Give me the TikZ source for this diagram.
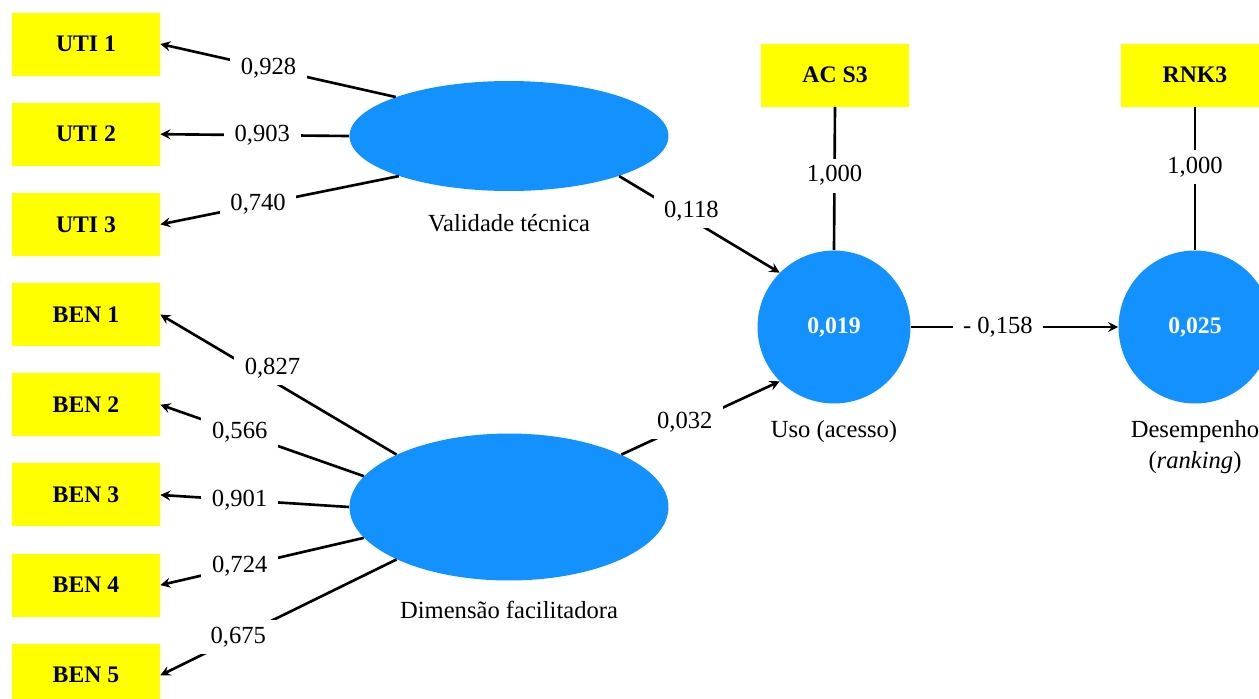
\documentclass[tikz,border=0pt]{standalone}
\usepackage{fontspec}
\setmainfont{Liberation Serif}
\usepackage{tikz}
\usetikzlibrary{shapes,arrows,positioning}
\definecolor{lvblue}{RGB}{18,145,255}
\definecolor{indyellow}{RGB}{255,255,0}

\begin{document}
\begin{tikzpicture}[
    x=0.02cm, y=-0.02cm,
    font=\fontsize{14}{16}\selectfont,
    indbox/.style={rectangle, fill=indyellow, minimum width=2.96cm, minimum height=1.26cm, font=\fontsize{13.5}{16}\selectfont\bfseries},
    latent/.style={ellipse, fill=lvblue, minimum width=6.38cm, inner sep=0pt},
    endo/.style={circle, fill=lvblue, minimum size=3.06cm, inner sep=0pt, text=white, font=\fontsize{13.5}{16}\selectfont\bfseries},
    lbl/.style={fill=white, inner xsep=6pt, inner ysep=4pt},
    arrow/.style={->, line width=1.5pt, >=stealth},
    link/.style={line width=1.5pt}
]
    % page frame (right and bottom edges cut the picture)
    \path[use as bounding box, clip] (0,0) rectangle (1259,698);

    % Latent variables
    \node[latent, minimum height=2.2cm] (vt) at (509,136) {};
    \node[latent, minimum height=2.94cm] (df) at (509,507) {};
    \node[endo] (uso) at (834,327) {0,019};
    \node[endo] (des) at (1195,327) {0,025};
    \node[below=0.34cm of vt] (vtcap) {Validade técnica};
    \node[below=0.28cm of df] (dfcap) {Dimensão facilitadora};
    \node[below=0.2cm of uso] (usocap) {Uso (acesso)};
    \node[below=0.2cm of des, align=center] (descap) {Desempenho\\[2pt](\textit{ranking})};

    % Indicators, stacked top to bottom
    \node[indbox] (uti1) at (86,44) {UTI 1};
    \node[indbox, below=0.53cm of uti1] (uti2) {UTI 2};
    \node[indbox, below=0.53cm of uti2] (uti3) {UTI 3};
    \node[indbox, below=0.53cm of uti3] (ben1) {BEN 1};
    \node[indbox, below=0.53cm of ben1] (ben2) {BEN 2};
    \node[indbox, below=0.53cm of ben2] (ben3) {BEN 3};
    \node[indbox, below=0.53cm of ben3] (ben4) {BEN 4};
    \node[indbox, below=0.53cm of ben4] (ben5) {BEN 5};
    \node[indbox] (acs3) at (835,75) {AC S3};
    \node[indbox] (rnk3) at (1195,75) {RNK3};

    % Outer loadings
    \draw[arrow] (vt.161) -- node[lbl, pos=0.54] {0,928} (uti1.east);
    \draw[arrow] (vt.180) -- node[lbl, pos=0.46] {0,903} (uti2.east);
    \draw[arrow] (vt.200) -- node[lbl, pos=0.59] {0,740} (uti3.east);
    \draw[arrow] (df.155) -- node[lbl, pos=0.57, xshift=6pt, yshift=4pt] {0,827} (ben1.east);
    \draw[arrow] (df.168) -- node[lbl, pos=0.61] {0,566} (ben2.east);
    \draw[arrow] (df.180) -- node[lbl, pos=0.58] {0,901} (ben3.east);
    \draw[arrow] (df.192) -- node[lbl, pos=0.61] {0,724} (ben4.east);
    \draw[arrow] (df.205) -- node[lbl, pos=0.67] {0,675} (ben5.east);
    \draw[link] (acs3.south) -- node[lbl, pos=0.48] {1,000} (uso.north);
    \draw[link] (rnk3.south) -- node[lbl, pos=0.42] {1,000} (des.north);

    % Path coefficients
    \draw[arrow] (vt.340) -- node[lbl, pos=0.45, yshift=5pt] {0,118} (uso.135);
    \draw[arrow] (df.25) -- node[lbl, pos=0.4, yshift=2pt] {0,032} (uso.225);
    \draw[arrow] (uso.east) -- node[lbl, pos=0.42] {- 0,158} (des.west);
\end{tikzpicture}
\end{document}
